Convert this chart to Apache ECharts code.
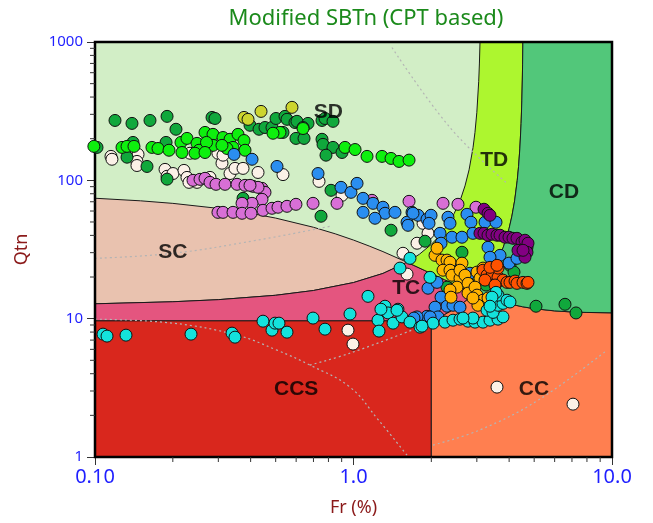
<!DOCTYPE html>
<html><head><meta charset="utf-8">
<script src="https://cdn.jsdelivr.net/npm/echarts@6/dist/echarts.min.js"></script>
<style>html,body{margin:0;padding:0;background:#fff}#c{width:653px;height:523px}</style>
</head><body><div id="c"></div>
<script>
// ---------- text ----------
const titleText = 'Modified SBTn (CPT based)';
const xName = 'Fr (%)';
const yName = 'Qtn';
const xTickText = ['0.10', '1.0', '10.0'];      // for 0.1, 1, 10
const yTickText = ['1', '10', '100', '1000'];   // for 1, 10, 100, 1000
const xMinorTicks = [0.2,0.3,0.4,0.5,0.6,0.7,0.8,0.9,2,3,4,5,6,7,8,9];
const yMinorTicks = [2,3,4,5,6,7,8,9,20,30,40,50,60,70,80,90,200,300,400,500,600,700,800,900];

// ---------- zone boundaries (Fr %, Qtn) ----------
const ib32Low = [[0.1,12.81],[0.2,13.25],[0.3,13.72],[0.5,14.76],[0.7,15.98],[1.0,18.24],[1.3,21.23],[1.61,25.58]];
const ib32Up = [[1.61,25.58],[1.8,29.25],[2.0,34.44],[2.15,39.7],[2.3,46.97],[2.45,57.4],[2.6,73.8],[2.7,91.2],[2.8,119.2],[2.9,172.2],[2.95,221.4],[3.0,310],[3.05,516.7],[3.07,704.5],[3.086,1000]];
const ib22Low = [[2.0,9.64],[2.25,10.69],[2.5,12.0],[2.7,13.3],[2.95,15.38]];
const ib22Up = [[2.95,15.38],[3.0,15.88],[3.25,18.95],[3.5,23.48],[3.8,32.9],[4.0,45.0],[4.1,55.1],[4.2,71.05],[4.3,100],[4.35,125.6],[4.4,168.75],[4.45,257],[4.48,375],[4.5,540],[4.51,692],[4.521,1000]];
const cd70Left = [[0.1,74.23],[0.15,71.1],[0.2,68.15],[0.3,62.69],[0.4,57.77],[0.5,53.35],[0.7,45.78],[0.85,41.05],[1.0,37.0],[1.15,33.5],[1.3,30.53],[1.61,25.58]];
const cd70Mid = [[1.61,25.58],[2.0,21.2],[2.25,19.13],[2.5,17.5],[2.7,16.45],[2.95,15.38]];
const cd70Right = [[2.95,15.38],[3.2,14.54],[3.5,13.74],[4.0,12.81],[4.5,12.2],[5.0,11.81],[6.0,11.38],[7.0,11.18],[8.0,11.09],[10,11.02]];
const ccsTop = 9.64, ccsRight = 2.0;

// faint dotted contour curves
const contourA = [[0.1,27.3],[0.2003,29.7],[0.423,36.9],[0.81,46.5]];
const contourB = [[0.1,9.92],[0.2003,9.28],[0.3543,7.6],[0.5059,5.92],[0.678,4.62],[0.9694,3.2],[1.249,1.85],[1.611,1.03]];
const contourC = [[0.678,4.62],[0.9694,5.63],[1.761,8.54]];
const contourD = [[2.03,1.22],[3.085,1.57],[5.19,2.58],[9.56,5.92]];
const contourE = [[1.409,912],[2.362,241],[3.925,95.1]];
const contours = [contourA, contourB, contourC, contourD, contourE];

const zoneNames = ['SD','SC','TC','CCS','CC','TD','CD'];
const zoneColors = ['#d2eec6','#e9c2af','#e4557f','#d9271d','#ff7f50','#adf62f','#52c77a'];
const zoneLabelPos = [[0.80,310],[0.200,30.2],[1.60,16.6],[0.60,3.1],[4.99,3.1],[3.50,140],[6.52,81.9]];

// ---------- CPT data points (Fr %, Qtn) ----------
const ptsWhite = [[0.1153,149],[0.1163,142],[0.1467,154],[0.1453,137],[0.1453,128],[0.1866,120],[0.19,107],[0.2003,112],[0.2209,118],[0.2269,105],[0.2331,157],[0.231,96.7],[0.2481,96.7],[0.2785,105],[0.299,157],[0.3099,133],[0.3127,152],[0.3329,112],[0.348,122],[0.3738,122],[0.4272,114],[0.5336,110],[0.7356,98.3],[0.9026,77.9],[1.858,48.9],[1.942,41.4],[1.761,35.1],[1.554,29.7],[1.611,21.0],[0.9521,8.26],[0.9955,6.55],[3.59,3.2],[7.065,2.41]];
const ptsDarkGreen = [[0.1018,173],[0.1195,271],[0.139,258],[0.1632,271],[0.19,290],[0.2057,234],[0.1883,188],[0.1403,188],[0.133,147],[0.1589,126],[0.19,102],[0.2836,285],[0.2912,280],[0.3738,74.1],[0.3978,250],[0.431,234],[0.4546,241],[0.4838,241],[0.5014,280],[0.5432,290],[0.553,276],[0.5336,222],[0.5937,262],[0.6043,267],[0.6668,258],[0.6379,241],[0.7554,271],[0.7758,280],[0.8332,267],[0.599,201],[0.6436,201],[0.7554,198],[0.7621,182],[0.8332,173],[0.9026,159],[0.7827,152],[0.8185,84.7],[0.7488,55],[1.397,43.6],[1.891,36.3],[2.628,30.2],[2.362,24.7],[2.773,18.3],[2.3,16.9],[3.256,17.5],[3.004,14.3],[4.031,24.3],[4.177,21.7],[2.977,14.5],[5.082,12.3],[6.579,12.7],[7.257,11.0]];
const ptsBrightGreen = [[0.099,176],[0.1272,173],[0.133,176],[0.1415,176],[0.1661,173],[0.1753,170],[0.1933,165],[0.2151,188],[0.2269,201],[0.217,159],[0.2481,185],[0.2526,165],[0.2437,157],[0.2664,222],[0.2861,215],[0.2861,179],[0.27,188],[0.2664,159],[0.3127,204],[0.3329,198],[0.3575,215],[0.3419,173],[0.3771,194],[0.3805,165],[0.3241,170],[0.3099,179],[0.5195,222],[0.4882,219],[0.6379,237],[0.9269,173],[1.014,167],[1.128,149],[1.289,149],[1.397,144],[1.5,137],[1.64,140]];
const ptsYellow = [[0.3771,285],[0.3908,276],[0.4388,315],[0.5781,337]];
const ptsOrchid = [[0.2394,100],[0.2548,101.7],[0.2664,103.4],[0.2785,96.7],[0.2938,93.6],[0.3184,93.6],[0.3543,93.6],[0.3805,92],[0.4086,90.5],[0.4426,87.5],[0.4546,81.9],[0.4426,72.9],[0.405,68.2],[0.3705,68.2],[0.4466,60.7],[0.4838,62.8],[0.5104,63.9],[0.553,64.9],[0.599,67.1],[0.6973,68.2],[0.8635,68.2],[0.299,58.7],[0.3127,58.7],[0.3419,58.7],[0.3705,57.8],[0.4014,57.8],[0.4272,89],[0.3978,92],[1.179,71.7],[1.64,70.5],[2.22,68.2],[2.536,67.1],[2.977,63.9]];
const ptsBlue = [[0.345,154],[0.405,142],[0.5059,126],[0.7291,112],[0.8946,89],[0.9779,81.9],[1.032,95.1],[1.089,74.1],[1.19,68.2],[1.3,63.9],[1.324,57.8],[1.089,58.7],[1.211,53.2],[1.447,58.7],[1.684,58.7],[1.611,49.8],[1.777,55.9],[1.924,52.3],[1.699,57.8],[1.995,55.9],[1.959,48.9],[2.32,54.1],[2.362,48.9],[2.748,56.8],[2.847,49.8],[3.227,49.8],[3.558,49.8],[2.161,41.4],[2.404,38.8],[2.628,38.8],[2.898,41.4],[2.181,35.1],[3.314,32.8],[3.688,28.7],[3.373,27.8],[3.995,25.2],[4.29,27.3],[2.822,21.3],[1.942,16.6],[2.181,14.3],[2.3,12.3],[2.067,12.1],[2.426,12.5],[2.582,12.1],[1.924,10.4],[2.123,10.3],[1.761,10.3],[1.714,10.1],[2.104,18.3],[1.625,47.3],[1.977,10.3]];
const ptsOrange = [[2.067,28.7],[2.2,26.5],[2.3,26.5],[2.362,25.6],[2.628,25.2],[2.22,22.4],[2.362,22.4],[2.404,20.6],[2.582,19.6],[2.582,22.4],[2.7,20.6],[2.514,16.9],[2.773,18],[3.004,21.7],[3.085,19.6],[3.17,23.2],[2.773,15.3],[2.951,16.9],[3.004,14.8],[3.17,13.6],[3.314,12.9],[3.03,12.5],[2.362,16.1],[2.383,14.3],[2.898,14.1],[3.314,14.1],[2.104,32.3]];
const ptsRedOrange = [[3.17,22.4],[3.285,20.6],[3.373,19.6],[3.434,20.6],[3.59,18.3],[3.622,19.9],[3.787,19],[3.925,18.3],[4.031,18.3],[4.215,18.7],[4.29,18],[4.526,18.3],[4.69,18],[4.732,18.3],[3.622,23.2],[3.373,23.5],[3.59,24.3],[3.227,19],[3.527,17.5]];
const ptsPurple = [[3.198,61.8],[3.314,57.8],[3.373,55.9],[3.085,41.4],[3.198,41.4],[3.314,40.1],[3.434,40.8],[3.59,40.1],[3.688,40.1],[3.855,38.8],[3.995,38.8],[4.14,38.1],[4.29,38.1],[4.486,35.7],[4.607,36.9],[4.69,32.8],[4.732,35.1],[4.69,30.2],[4.607,27.8],[4.329,31.2],[4.526,31.2]];
const ptsCyan = [[0.1074,7.73],[0.1113,7.48],[0.1318,7.6],[0.2352,7.73],[0.3389,7.86],[0.348,7.35],[0.4466,9.59],[0.4838,8.26],[0.497,9.28],[0.5149,9.28],[0.553,7.99],[0.6973,10.1],[0.7758,8.4],[0.9694,10.8],[1.138,14.5],[1.244,9.75],[1.255,8.13],[1.324,12.3],[1.36,11.0],[1.422,9.28],[1.486,11.7],[1.54,10.3],[1.654,9.44],[1.809,8.68],[2.03,9.28],[2.259,9.44],[2.426,9.75],[2.582,9.92],[2.773,9.59],[2.951,9.44],[3.17,9.44],[3.373,9.75],[3.622,9.92],[3.787,10.3],[3.285,11.5],[3.465,11.1],[3.622,12.5],[3.787,12.9],[3.622,14.8],[3.925,13.6],[4.031,13.2],[3.558,15.5],[3.434,14.3],[3.373,12.3],[2.898,10.1],[2.652,10.1],[1.841,8.83],[1.977,19.9],[1.513,23.2],[1.654,27.3],[1.277,11.7],[1.473,11.5]];

const pointGroups = [
  {data: ptsWhite, color: '#fbf1e7'},
  {data: ptsDarkGreen, color: '#10a83c'},
  {data: ptsBrightGreen, color: '#0ef00e'},
  {data: ptsYellow, color: '#cdd52e'},
  {data: ptsOrchid, color: '#d86fd6'},
  {data: ptsBlue, color: '#2a8ef0'},
  {data: ptsOrange, color: '#ffb300'},
  {data: ptsRedOrange, color: '#ff5200'},
  {data: ptsPurple, color: '#820082'},
  {data: ptsCyan, color: '#14e2dc'}
];

// ---------- build zone polygons ----------
const rev = a => a.slice().reverse();
const zonePolys = {
  SD: [[0.1,1000],[10,1000],[10,1],[0.1,1]],
  SC: [...cd70Left, ...rev(ib32Low)],
  TC: [...ib32Low, ...cd70Mid, ...rev(ib22Low), [0.1, ccsTop]],
  CCS: [[0.1,1],[ccsRight,1],[ccsRight,ccsTop],[0.1,ccsTop]],
  CC: [[ccsRight,1],[10,1],...rev(cd70Right), ...rev(ib22Low)],
  TD: [...ib32Up, ...rev(ib22Up), ...rev(cd70Mid)],
  CD: [...ib22Up, [10,1000], ...rev(cd70Right)]
};

const chart = echarts.init(document.getElementById('c'), null, {renderer: 'canvas'});
const font = 'Noto Sans, Open Sans, sans-serif';
const series = [];
series.push({
  type: 'custom', coordinateSystem: 'cartesian2d', silent: true, z: 1,
  data: zoneNames.map(n => zonePolys[n][0]),
  renderItem: function (params, api) {
    const name = zoneNames[params.dataIndex];
    const pts = zonePolys[name].map(p => api.coord(p));
    return {type: 'polygon', shape: {points: pts},
      style: {fill: zoneColors[params.dataIndex], stroke: name === 'SD' ? null : '#1a1a1a', lineWidth: 1}};
  }
});
contours.forEach(c => series.push({
  type: 'line', data: c, smooth: 0.4, symbol: 'none', silent: true, z: 2,
  lineStyle: {color: '#b4b4b4', width: 1.2, type: [2, 3]}
}));
series.push({
  type: 'custom', coordinateSystem: 'cartesian2d', silent: true, z: 3, clip: false,
  data: [[0.1, 1]],
  renderItem: function (params, api) {
    const a = api.coord([0.1, 1000]), b = api.coord([10, 1]);
    const children = [{type: 'rect', shape: {x: a[0], y: a[1], width: b[0] - a[0], height: b[1] - a[1]},
      style: {fill: null, stroke: '#000', lineWidth: 2.5}}];
    xMinorTicks.forEach(v => {
      const p = api.coord([v, 1]);
      children.push({type: 'line', shape: {x1: p[0], y1: p[1], x2: p[0], y2: p[1] + 5}, style: {stroke: '#333', lineWidth: 1}});
    });
    yMinorTicks.forEach(v => {
      const p = api.coord([0.1, v]);
      children.push({type: 'line', shape: {x1: p[0] - 5, y1: p[1], x2: p[0], y2: p[1]}, style: {stroke: '#333', lineWidth: 1}});
    });
    return {type: 'group', children: children};
  }
});
pointGroups.forEach(g => series.push({
  type: 'scatter', data: g.data, symbol: 'circle', symbolSize: 12, clip: false, z: 5,
  itemStyle: {color: g.color, borderColor: '#111', borderWidth: 1, opacity: 1}
}));
series.push({
  type: 'scatter', z: 8, symbolSize: 1, silent: true,
  data: zoneNames.map((n, i) => ({value: zoneLabelPos[i], name: n})),
  itemStyle: {color: 'rgba(0,0,0,0)'},
  label: {show: true, position: 'inside', formatter: p => p.name, color: '#000',
    fontSize: 21, fontWeight: 'bold', fontFamily: 'Liberation Sans, Arial, sans-serif'}
});

const logx = v => Math.round(Math.log10(v));
chart.setOption({
  animation: false,
  backgroundColor: '#fff',
  title: {text: titleText, left: 361, top: 3, textAlign: 'center',
    textStyle: {color: '#1b8a1b', fontSize: 22, fontWeight: 'normal', fontFamily: font}},
  grid: {left: 95, right: 41, top: 42, bottom: 66, show: true, backgroundColor: zoneColors[0], borderWidth: 0},
  xAxis: {
    type: 'log', logBase: 10, min: 0.1, max: 10,
    name: xName, nameLocation: 'middle', nameGap: 42,
    nameTextStyle: {color: '#8b1a1a', fontSize: 18, fontFamily: font},
    axisLine: {show: true, lineStyle: {color: '#000', width: 1}},
    axisTick: {show: true, length: 8, lineStyle: {color: '#333'}},
    axisLabel: {color: '#1f1fff', fontSize: 20, fontFamily: font, margin: 10,
      formatter: v => xTickText[logx(v) + 1]},
    splitLine: {show: true, lineStyle: {color: '#999', type: [3, 3], width: 1}}
  },
  yAxis: {
    type: 'log', logBase: 10, min: 1, max: 1000,
    name: yName, nameLocation: 'middle', nameGap: 64,
    nameTextStyle: {color: '#8b1a1a', fontSize: 18, fontFamily: font},
    axisLine: {show: true, lineStyle: {color: '#000', width: 1}},
    axisTick: {show: true, length: 8, lineStyle: {color: '#333'}},
    axisLabel: {color: '#1f1fff', fontSize: 15, fontFamily: font, margin: 12,
      formatter: v => yTickText[logx(v)]},
    splitLine: {show: true, lineStyle: {color: '#999', type: [3, 3], width: 1}}
  },
  series: series
});
</script></body></html>
